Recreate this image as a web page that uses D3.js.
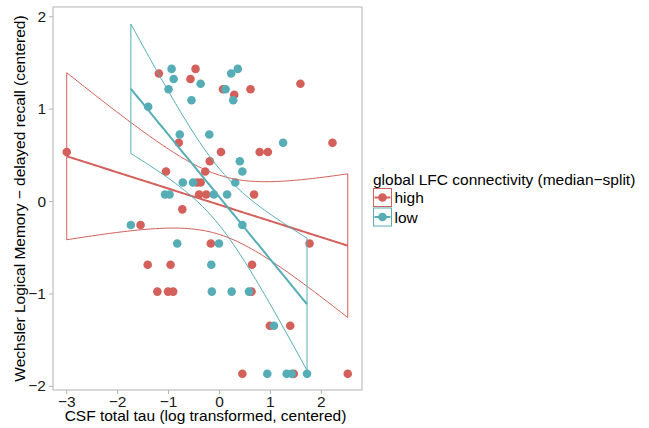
<!DOCTYPE html>
<html>
<head>
<meta charset="utf-8">
<script src="https://cdn.jsdelivr.net/npm/d3@7"></script>
<style>
  body { margin: 0; background: #fff; }
  text { font-family: "Liberation Sans", Arial, Helvetica, sans-serif; }
  .axis path { stroke: #b3b3b3; }
  .axis line { stroke: #b3b3b3; }
  .axis text { fill: #1a1a1a; font-size: 15.5px; }
</style>
</head>
<body>
<div id="chart"></div>
<script>
  // tau (x) and memory (y) values
  var highTau = [-2.99, -1.18, -0.46, -0.56, -0.79, -0.18, -0.27, -1.04, -0.43, -0.36,
                 -0.39, -0.25, 0.08, 0.30, 0.62, 1.60, 0.04, 0.80, 0.96, 2.23,
                 0.69, -1.54, -0.72, -0.16, -1.40, -0.95, -1.21, -1.00, -0.90, 1.78,
                 0.65, 0.64, 1.00, 1.40, 0.46, 1.47, 2.53];
  var highMem = [0.53, 1.38, 1.43, 1.32, 0.63, 0.43, 0.32, 0.32, 0.20, 0.20,
                 0.07, 0.07, 1.21, 1.15, 1.21, 1.27, 0.53, 0.53, 0.53, 0.63,
                 0.07, -0.26, -0.09, -0.46, -0.69, -0.69, -0.98, -0.98, -0.98, -0.46,
                 -0.69, -0.98, -1.35, -1.35, -1.87, -1.87, -1.87];

  var lowTau = [-0.93, -0.89, -0.36, -0.99, -0.54, -1.39, -0.77, -0.19, -0.71, -0.51,
                -1.06, -0.97, -0.10, 0.24, 0.37, 0.13, 0.28, 1.26, 0.41, 0.46,
                0.32, 0.16, -1.73, -0.82, -0.15, -0.14, 0.46, 0.00, 0.25, 0.59,
                1.08, 0.95, 1.33, 1.43, 1.73];
  var lowMem = [1.43, 1.32, 1.27, 1.21, 1.09, 1.02, 0.72, 0.72, 0.20, 0.20,
                0.07, 0.07, 0.07, 1.38, 1.43, 1.21, 1.09, 0.63, 0.43, 0.32,
                0.20, 0.07, -0.26, -0.46, -0.69, -0.98, -0.26, -0.46, -0.98, -0.98,
                -1.35, -1.87, -1.87, -1.87, -1.87];

  var groups = ['high', 'low'];
  var xTicks = [-3, -2, -1, 0, 1, 2];
  var yTicks = [-2, -1, 0, 1, 2];

  var colors = { high: '#d3605a', low: '#56adb6' };

  var margin = { top: 7, left: 53, bottom: 38, right: 287 },
    width = 649 - margin.left - margin.right,
    height = 428 - margin.top - margin.bottom;

  var svgRoot = d3.select('#chart').append('svg')
    .attr('width', 649)
    .attr('height', 428);

  var svg = svgRoot.append('g')
    .attr('transform', 'translate(' + margin.left + ',' + margin.top + ')');

  var x = d3.scaleLinear().domain([-3.26, 2.81]).range([0, width]);
  var y = d3.scaleLinear().domain([-2.045, 2.1]).range([height, 0]);

  var data = {
    high: highTau.map((t, i) => ({ x: t, y: highMem[i], g: 'high' })),
    low: lowTau.map((t, i) => ({ x: t, y: lowMem[i], g: 'low' }))
  };

  // linear fit + 95% confidence band, like geom_smooth(method = 'lm')
  function fitLm(pts) {
    var n = pts.length;
    var mx = d3.mean(pts, d => d.x), my = d3.mean(pts, d => d.y);
    var sxx = d3.sum(pts, d => (d.x - mx) * (d.x - mx));
    var sxy = d3.sum(pts, d => (d.x - mx) * (d.y - my));
    var b = sxy / sxx, a = my - b * mx;
    var sse = d3.sum(pts, d => Math.pow(d.y - (a + b * d.x), 2));
    var s = Math.sqrt(sse / (n - 2));
    var t = 2.03;
    var lo = d3.min(pts, d => d.x), hi = d3.max(pts, d => d.x);
    var out = [];
    for (var k = 0; k < 80; k++) {
      var xv = lo + (hi - lo) * k / 79;
      var fit = a + b * xv;
      var se = s * Math.sqrt(1 / n + (xv - mx) * (xv - mx) / sxx);
      out.push({ x: xv, fit: fit, up: fit + t * se, low: fit - t * se });
    }
    return out;
  }

  // panel border
  svg.append('rect')
    .attr('width', width)
    .attr('height', height)
    .attr('fill', 'none')
    .attr('stroke', '#b3b3b3')
    .attr('stroke-width', 1);

  // axes
  var xAxis = d3.axisBottom(x).tickValues(xTicks).tickSize(4).tickPadding(2).tickFormat(d3.format('d'));
  var yAxis = d3.axisLeft(y).tickValues(yTicks).tickSize(4).tickPadding(3).tickFormat(d3.format('d'));

  svg.append('g')
    .attr('class', 'axis')
    .attr('transform', 'translate(0,' + height + ')')
    .call(xAxis)
    .call(g => g.select('.domain').remove());

  svg.append('g')
    .attr('class', 'axis')
    .call(yAxis)
    .call(g => g.select('.domain').remove());

  // points
  groups.forEach(g => {
    svg.selectAll('.pt-' + g)
      .data(data[g])
      .enter()
      .append('circle')
      .attr('class', 'pt-' + g)
      .attr('cx', d => x(d.x))
      .attr('cy', d => y(d.y))
      .attr('r', 4.3)
      .attr('fill', colors[g]);
  });

  // smooths
  groups.forEach(g => {
    var band = fitLm(data[g]);
    var poly = band.map(d => [x(d.x), y(d.up)])
      .concat(band.slice().reverse().map(d => [x(d.x), y(d.low)]));

    svg.append('path')
      .attr('d', d3.line()(poly) + 'Z')
      .attr('fill', 'none')
      .attr('stroke', colors[g])
      .attr('stroke-width', 1);

    svg.append('path')
      .datum(band)
      .attr('d', d3.line().x(d => x(d.x)).y(d => y(d.fit)))
      .attr('fill', 'none')
      .attr('stroke', colors[g])
      .attr('stroke-width', 2);
  });

  // axis titles
  svgRoot.append('text')
    .attr('x', margin.left + width / 2 - 2)
    .attr('y', 421)
    .attr('text-anchor', 'middle')
    .style('font-size', '15.5px')
    .attr('fill', '#000')
    .text('CSF total tau (log transformed, centered)');

  svgRoot.append('text')
    .attr('transform', 'translate(25,' + (margin.top + height / 2) + ') rotate(-90)')
    .attr('text-anchor', 'middle')
    .style('font-size', '15.5px')
    .attr('fill', '#000')
    .text('Wechsler Logical Memory \u2212 delayed recall (centered)');

  // legend
  var legend = svgRoot.append('g')
    .attr('transform', 'translate(373,0)');

  legend.append('text')
    .attr('x', 0)
    .attr('y', 185)
    .style('font-size', '15.5px')
    .attr('fill', '#000')
    .text('global LFC connectivity (median\u2212split)');

  groups.forEach((g, i) => {
    var ky = 188.5 + i * 19.5;
    legend.append('rect')
      .attr('x', 0.5)
      .attr('y', ky)
      .attr('width', 18)
      .attr('height', 18)
      .attr('fill', '#fff')
      .attr('stroke', colors[g])
      .attr('stroke-width', 1);
    legend.append('line')
      .attr('x1', 1.5).attr('x2', 17.5)
      .attr('y1', ky + 9).attr('y2', ky + 9)
      .attr('stroke', colors[g])
      .attr('stroke-width', 2);
    legend.append('circle')
      .attr('cx', 9.5)
      .attr('cy', ky + 9)
      .attr('r', 4.3)
      .attr('fill', colors[g]);
    legend.append('text')
      .attr('x', 21.5)
      .attr('y', ky + 14.5)
      .style('font-size', '15.5px')
      .attr('fill', '#000')
      .text(g);
  });
</script>
</body>
</html>
